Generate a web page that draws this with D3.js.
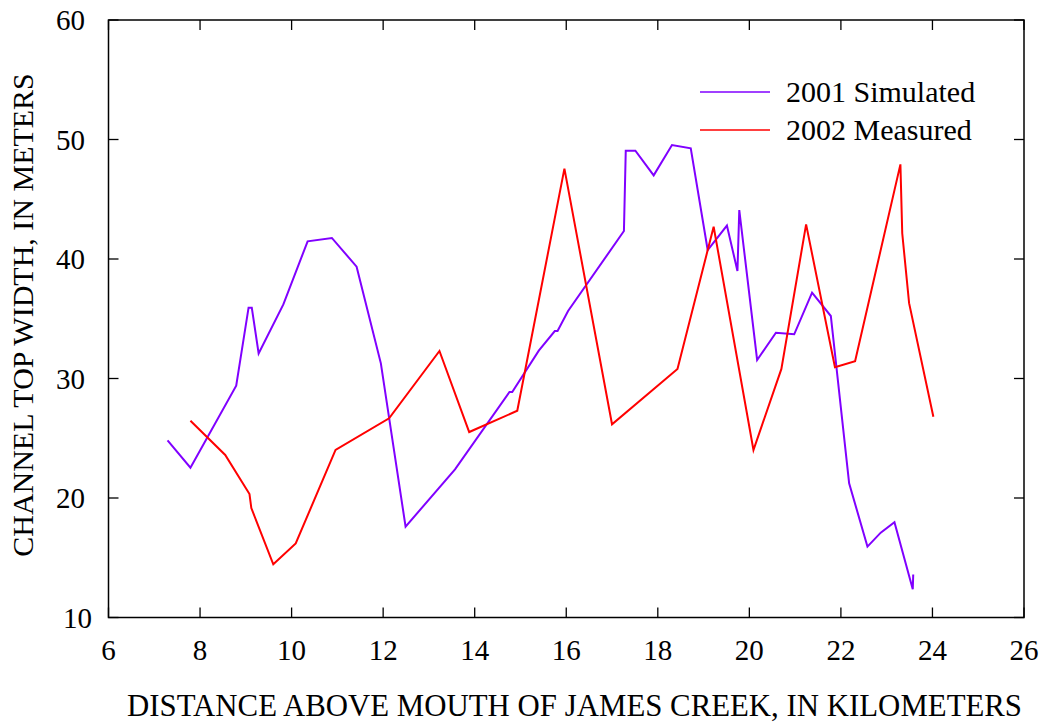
<!DOCTYPE html>
<html><head><meta charset="utf-8">
<script src="https://d3js.org/d3.v7.min.js"></script>
<style>body{margin:0;background:#fff}svg{display:block}</style>
</head><body><svg id="c" width="1046" height="726"></svg>
<script>
const simulatedX = [7.29,7.79,8.79,9.06,9.13,9.28,9.82,10.35,10.88,11.42,11.95,12.49,13.57,14.76,14.82,15.40,15.75,15.81,16.04,17.26,17.30,17.51,17.91,18.31,18.72,19.09,19.51,19.74,19.78,20.17,20.58,20.98,21.37,21.78,22.18,22.58,22.87,23.17,23.57,23.58];
const simulatedY = [24.83,22.54,29.40,35.93,35.93,32.1,36.2,41.48,41.76,39.36,31.27,17.6,22.4,28.87,28.87,32.33,33.97,33.97,35.65,42.34,49.06,49.06,47.0,49.54,49.26,40.75,42.8,39.0,44.1,31.55,33.83,33.7,37.18,35.23,21.23,15.93,17.1,17.97,12.36,13.6];
const measuredX = [7.79,8.55,9.08,9.12,9.60,10.09,10.96,12.13,13.23,13.88,14.93,15.96,17.0,18.43,19.22,20.09,20.70,21.24,21.87,22.31,23.30,23.34,23.49,24.02];
const measuredY = [26.47,23.6,20.33,19.16,14.45,16.2,24.02,26.67,32.3,25.52,27.3,47.56,26.17,30.8,42.7,24.02,30.8,42.9,30.94,31.44,47.92,42.15,36.3,26.8];
const xTicks = [6,8,10,12,14,16,18,20,22,24,26];
const yTicks = [10,20,30,40,50,60];
const seriesNames = ["2001 Simulated","2002 Measured"];
const seriesColors = ["#8000ff","#ff0000"];

const FONT = "'Liberation Serif', 'Times New Roman', Times, 'DejaVu Serif', serif";
const svg = d3.select("#c").attr("font-family", FONT);
const L=108.5, R=1024, T=20, B=617.5;
const x = d3.scaleLinear().domain([6,26]).range([L,R]);
const y = d3.scaleLinear().domain([10,60]).range([B,T]);

const tl = 10;
const g = svg.append("g").attr("stroke","#000").attr("stroke-width",1.3);
xTicks.forEach(v=>{
  g.append("line").attr("x1",x(v)).attr("x2",x(v)).attr("y1",B).attr("y2",B-tl);
  g.append("line").attr("x1",x(v)).attr("x2",x(v)).attr("y1",T).attr("y2",T+tl);
});
yTicks.forEach(v=>{
  g.append("line").attr("x1",L).attr("x2",L+tl).attr("y1",y(v)).attr("y2",y(v));
  g.append("line").attr("x1",R).attr("x2",R-tl).attr("y1",y(v)).attr("y2",y(v));
});

const line = d3.line().x(d=>x(d[0])).y(d=>y(d[1]));
const sim = simulatedX.map((v,i)=>[v,simulatedY[i]]);
const mea = measuredX.map((v,i)=>[v,measuredY[i]]);
svg.append("path").datum(sim).attr("d",line).attr("fill","none").attr("stroke",seriesColors[0]).attr("stroke-width",2);
svg.append("path").datum(mea).attr("d",line).attr("fill","none").attr("stroke",seriesColors[1]).attr("stroke-width",2);

svg.append("rect").attr("x",L).attr("y",T).attr("width",R-L).attr("height",B-T).attr("fill","none").attr("stroke","#000").attr("stroke-width",1.5);

xTicks.forEach(v=>{
  svg.append("text").attr("x",x(v)).attr("y",660).attr("text-anchor","middle").attr("font-size",29).attr("font-family",FONT).text(v);
});
yTicks.forEach((v,i)=>{
  svg.append("text").attr("x",i===0?92:85).attr("y",y(v)+10).attr("text-anchor","end").attr("font-size",29).attr("font-family",FONT).text(v);
});

svg.append("text").attr("x",127).attr("y",716).attr("font-size",31).attr("font-family",FONT)
  .attr("textLength",895).attr("lengthAdjust","spacingAndGlyphs")
  .text("DISTANCE ABOVE MOUTH OF JAMES CREEK, IN KILOMETERS");
svg.append("text").attr("transform","translate(33,315) rotate(-90)").attr("text-anchor","middle").attr("font-size",30).attr("font-family",FONT)
  .text("CHANNEL TOP WIDTH, IN METERS");

seriesNames.forEach((n,i)=>{
  const ly = 92 + i*38;
  svg.append("line").attr("x1",700).attr("x2",770).attr("y1",ly).attr("y2",ly).attr("stroke",seriesColors[i]).attr("stroke-width",1.5);
  svg.append("text").attr("x",786).attr("y",ly+10).attr("font-size",30).attr("font-family",FONT).text(n);
});
</script></body></html>
